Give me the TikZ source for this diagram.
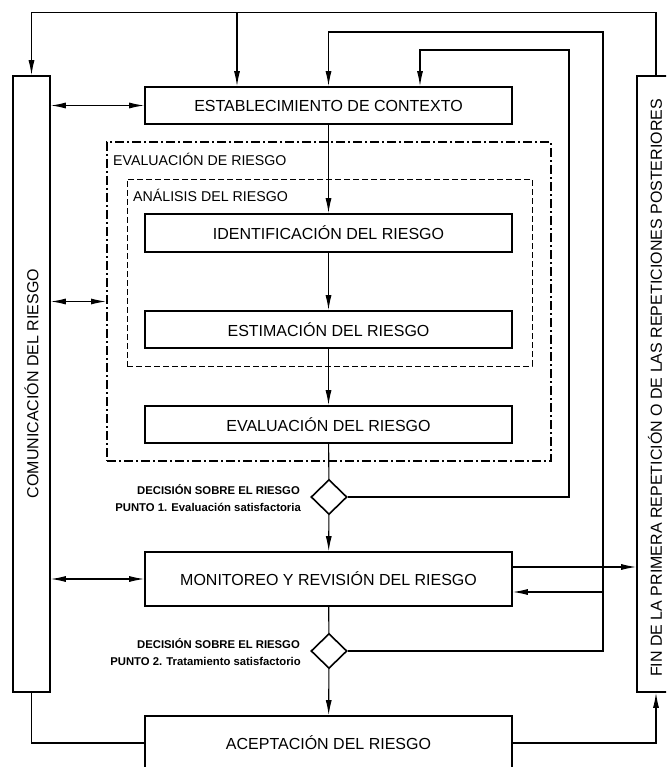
\documentclass[tikz,border=0pt]{standalone}
\usepackage{fontspec}
\setmainfont{Liberation Sans}
\usetikzlibrary{arrows.meta,shapes.geometric}

\begin{document}
\begin{tikzpicture}[x=1pt, y=-1pt,
    >={Latex[length=15pt,width=6pt]},
    caja/.style={draw, line width=1.6pt, minimum width=367pt, minimum height=37pt, inner sep=0pt, font=\fontsize{16}{19}\selectfont},
    barra/.style={draw, line width=1.6pt, minimum width=37pt, minimum height=616pt, inner sep=0pt},
    textobarra/.style={rotate=90, inner sep=0pt, font=\fontsize{16}{19}\selectfont},
    decision/.style={draw, diamond, line width=1.6pt, minimum width=36pt, minimum height=35pt, inner sep=0pt},
    etiq/.style={inner sep=0pt, font=\fontsize{14.2}{17}\selectfont},
    etiqdec/.style={inner sep=0pt, anchor=base east, font=\fontsize{11.3}{14}\selectfont\bfseries},
    linea/.style={line width=1.1pt}]
    \useasboundingbox (0,0) rectangle (666,767);
    \clip (0,0) rectangle (666,767);

    % Recuadros de evaluacion y analisis
    \node[draw, line width=2pt, dash pattern=on 9pt off 3pt on 2pt off 3pt, minimum width=444pt, minimum height=319pt] (evalbox) at (329,301.5) {};
    \node[draw, line width=0.9pt, dash pattern=on 6pt off 3pt, minimum width=405pt, minimum height=187pt] (analbox) at (329.5,272.5) {};
    \node[etiq, anchor=base west] (etqeval) at (113,166) {EVALUACIÓN DE RIESGO};
    \node[etiq, anchor=base west] (etqanal) at (133,202) {ANÁLISIS DEL RIESGO};

    % Cajas del proceso
    \node[caja] (contexto) at (328.5,105.5) {ESTABLECIMIENTO DE CONTEXTO};
    \node[caja, minimum height=38pt] (identif) at (328.5,233) {IDENTIFICACIÓN DEL RIESGO};
    \node[caja] (estim) at (328.5,329.5) {ESTIMACIÓN DEL RIESGO};
    \node[caja] (evalua) at (328.5,424.5) {EVALUACIÓN DEL RIESGO};
    \node[caja, minimum height=54pt] (monitor) at (328.5,579) {MONITOREO Y REVISIÓN DEL RIESGO};
    \node[caja, minimum height=54pt] (acepta) at (328.5,743) {ACEPTACIÓN DEL RIESGO};

    % Barras laterales
    \node[barra] (comunic) at (31.5,384) {};
    \node[barra, minimum width=38pt] (fin) at (656,384) {};
    \node[textobarra] (comunicT) at (31.5,383.5) {COMUNICACIÓN DEL RIESGO};
    \node[textobarra] (finT) at (655,388) {FIN DE LA PRIMERA REPETICIÓN O DE LAS REPETICIONES POSTERIORES};

    % Puntos de decision
    \node[decision] (dec1) at (329,497) {};
    \node[decision] (dec2) at (329,651) {};
    \node[etiqdec] (dec1a) at (300,494) {DECISIÓN SOBRE EL RIESGO};
    \node[etiqdec] (dec1b) at (301,511) {PUNTO 1. Evaluación satisfactoria};
    \node[etiqdec] (dec2a) at (300,648) {DECISIÓN SOBRE EL RIESGO};
    \node[etiqdec] (dec2b) at (301,665) {PUNTO 2. Tratamiento satisfactorio};

    % Flujo principal
    \draw[linea, ->] (contexto) -- (identif);
    \draw[linea, ->] (identif) -- (estim);
    \draw[linea, ->] (estim) -- (evalua);
    \draw[linea] (evalua) -- (dec1);
    \draw[linea, ->] (dec1) -- (monitor);
    \draw[linea] (monitor) -- (dec2);
    \draw[linea, ->] (dec2) -- (acepta);

    % Comunicacion (doble flecha)
    \draw[linea, <->] (comunic.east |- contexto.west) -- (contexto.west);
    \draw[linea, <->] (comunic.east |- evalbox.west) -- (evalbox.west);
    \draw[linea, <->] (comunic.east |- monitor.west) -- (monitor.west);

    % Lazo superior
    \coordinate (ramaA) at (237,13);
    \draw[linea, ->] (fin.north) -- ++(0,-63) -| (comunic.north);
    \draw[linea, ->] (ramaA) -- (ramaA |- contexto.north);

    % Retorno desde decision 1
    \coordinate (lazo1) at (569,50);
    \coordinate (x420) at (420,50);
    \draw[linea, ->] (dec1.east) -| (lazo1) -- (x420) -- (x420 |- contexto.north);

    % Retorno desde decision 2
    \coordinate (lazo2) at (603,32);
    \coordinate (rama2) at (603,592);
    \draw[linea, ->] (dec2.east) -| (lazo2) -| (contexto.north);
    \draw[linea, ->] (rama2) -- (rama2 -| monitor.east);

    % Salidas hacia la barra derecha
    \draw[linea, ->] ([yshift=12pt]monitor.east) -- ([yshift=12pt]monitor.east -| fin.west);
    \draw[linea, ->] (acepta.east) -| (fin.south);
    \draw[linea] (comunic.south) |- (acepta.west);
\end{tikzpicture}
\end{document}
